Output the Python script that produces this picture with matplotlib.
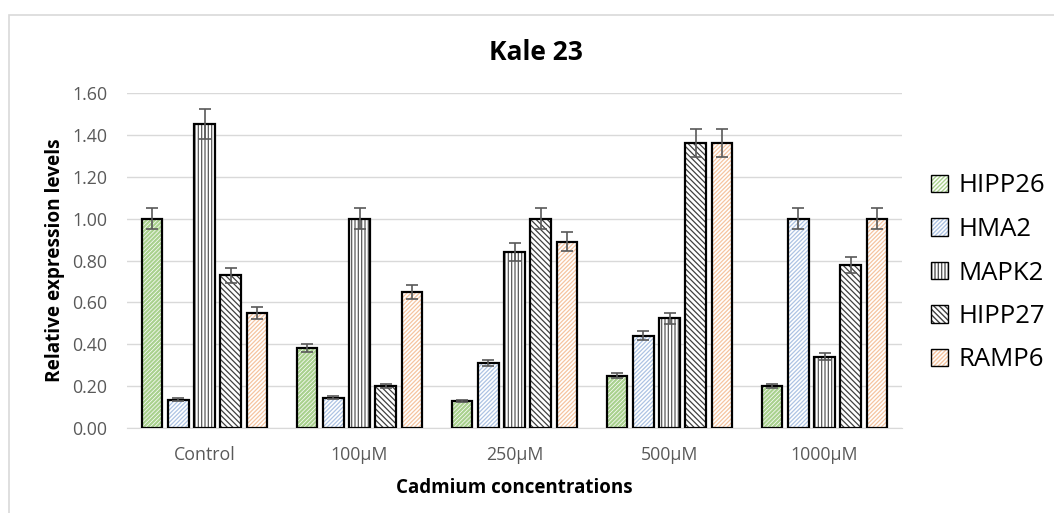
import numpy as np
import matplotlib
matplotlib.use('Agg')
import matplotlib.pyplot as plt
from matplotlib.patches import Patch, Rectangle

plt.rcParams['font.family'] = ['Open Sans', 'DejaVu Sans']

categories = ['Control', '100µM', '250µM', '500µM', '1000µM']
genes = ['HIPP26', 'HMA2', 'MAPK2', 'HIPP27', 'RAMP6']

hipp26 = [1.00, 0.38, 0.13, 0.25, 0.20]
hma2 = [0.135, 0.145, 0.31, 0.44, 1.00]
mapk2 = [1.45, 1.00, 0.84, 0.525, 0.34]
hipp27 = [0.73, 0.20, 1.00, 1.36, 0.78]
ramp6 = [0.55, 0.65, 0.89, 1.36, 1.00]

hipp26_err = [0.05, 0.019, 0.006, 0.012, 0.01]
hma2_err = [0.007, 0.007, 0.015, 0.022, 0.05]
mapk2_err = [0.072, 0.05, 0.042, 0.026, 0.017]
hipp27_err = [0.036, 0.01, 0.05, 0.068, 0.039]
ramp6_err = [0.028, 0.033, 0.045, 0.068, 0.05]

series = [hipp26, hma2, mapk2, hipp27, ramp6]
errors = [hipp26_err, hma2_err, mapk2_err, hipp27_err, ramp6_err]
hatch_colors = ['#a9d18e', '#adc3e3', '#595959', '#404040', '#f5c4a0']
hatches = ['/' * 8, '/' * 8, '|' * 5, '\\' * 6, '/' * 8]
hatch_widths = [1.6, 0.9, 0.9, 0.9, 0.9]

fig = plt.figure(figsize=(10.54, 5.13), dpi=100)
ax = fig.add_axes([127 / 1054, 1 - 428 / 513, (902 - 127) / 1054, (428 - 93) / 513])

# light frame around the chart area
fig.patches.append(Rectangle((9 / 1054, -0.1), 1.2, 1 - 15 / 513 + 0.1,
                             transform=fig.transFigure, fill=False,
                             edgecolor='#d9d9d9', linewidth=1.2))

x = np.arange(len(categories))
step = 0.168
width = 0.13
for i, (vals, errs) in enumerate(zip(series, errors)):
    pos = x + (i - 2) * step
    with plt.rc_context({'hatch.linewidth': hatch_widths[i]}):
        ax.bar(pos, vals, width, color='white', edgecolor=hatch_colors[i],
               hatch=hatches[i], linewidth=0, zorder=2)
    ax.bar(pos, vals, width, fill=False, edgecolor='black', linewidth=1.6, zorder=3)
    ax.errorbar(pos, vals, yerr=errs, fmt='none', ecolor='#595959',
                elinewidth=1.2, capsize=4, capthick=1.2, zorder=4)

ax.set_xlim(-0.5, len(categories) - 0.5)
ax.set_ylim(0, 1.6)
ax.set_yticks(np.arange(0, 1.61, 0.2))
ax.set_yticklabels(['%.2f' % v for v in np.arange(0, 1.61, 0.2)])
ax.set_xticks(x)
ax.set_xticklabels(categories)
ax.tick_params(axis='both', length=0, labelsize=12.8, colors='#595959', pad=14)
ax.tick_params(axis='x', pad=13)
ax.grid(axis='y', color='#d9d9d9', linewidth=1)
ax.set_axisbelow(True)
for side in ['top', 'right', 'left']:
    ax.spines[side].set_visible(False)
ax.spines['bottom'].set_color('#d9d9d9')

ax.set_ylabel('Relative expression levels', fontsize=13.7, fontweight='bold', labelpad=5)
ax.set_xlabel('Cadmium concentrations', fontsize=13.5, fontweight='bold', labelpad=10)
fig.text(536 / 1054, 1 - 52 / 513, 'Kale 23', fontsize=19, fontweight='bold',
         ha='center', va='center')

handles = []
for i in range(len(genes)):
    with plt.rc_context({'hatch.linewidth': hatch_widths[i]}):
        fill = Patch(facecolor='white', edgecolor=hatch_colors[i],
                     hatch=hatches[i], linewidth=0)
    outline = Patch(fill=False, edgecolor='black', linewidth=1.0)
    handles.append((fill, outline))
leg = fig.legend(handles, genes, loc='center left', bbox_to_anchor=(931 / 1054, 1 - 273 / 513),
                 frameon=False, fontsize=18.5, handlelength=0.66, handleheight=0.66,
                 handletextpad=0.4, labelspacing=0.72, borderpad=0, borderaxespad=0)

fig.savefig('out.png', dpi=100)
